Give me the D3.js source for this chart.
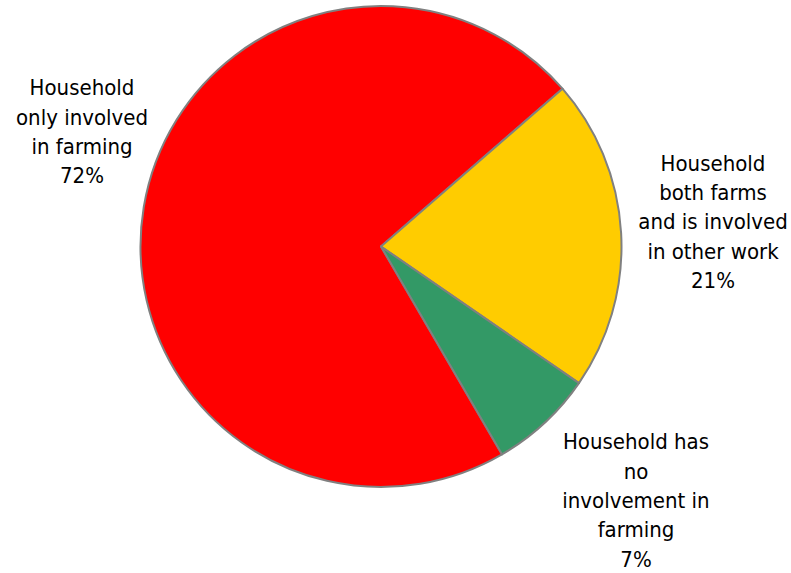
<!DOCTYPE html>
<html>
<head>
<meta charset="utf-8">
<script src="https://cdn.jsdelivr.net/npm/d3@7"></script>
<style>
  html, body { margin: 0; padding: 0; background: #fff; }
  svg { display: block; }
</style>
</head>
<body>
<svg id="chart" width="791" height="573"></svg>
<script>
// Household involvement in farming
const categories = [
  ["Household", "only involved", "in farming"],
  ["Household", "both farms", "and is involved", "in other work"],
  ["Household has", "no", "involvement in", "farming"]
];
const shares = [72, 21, 7];
const colors = ["#FF0000", "#FFCC00", "#339966"];

const width = 791, height = 573;
const cx = 381, cy = 246.5, radius = 240.5;

const svg = d3.select("#chart");
const g = svg.append("g").attr("transform", `translate(${cx},${cy})`);

// The first slice ends at about 49° past twelve o'clock
const endOfFirst = 49 * Math.PI / 180;
const total = d3.sum(shares);
const start = endOfFirst - (shares[0] / total) * 2 * Math.PI;

const pie = d3.pie().sort(null).value(d => d)
  .startAngle(start).endAngle(start + 2 * Math.PI);
const arcs = pie(shares);
const arc = d3.arc().innerRadius(0).outerRadius(radius);

g.selectAll("path.slice")
  .data(arcs)
  .join("path")
  .attr("class", "slice")
  .attr("d", arc)
  .attr("fill", (d, i) => colors[i])
  .attr("stroke", "#808080")
  .attr("stroke-width", 2)
  .attr("stroke-linejoin", "round");

// Label blocks placed outside each slice (centre of each block)
const labelAnchors = [
  { x: 82, y: 131.5 },
  { x: 713, y: 221.5 },
  { x: 636, y: 500 }
];
const lineH = 29.3;

arcs.forEach((a, i) => {
  const lines = categories[i].concat([shares[i] + "%"]);
  const n = lines.length;
  const t = svg.append("text")
    .attr("font-family", "'DejaVu Sans Condensed', 'DejaVu Sans', Verdana, sans-serif")
    .attr("font-stretch", "condensed")
    .attr("font-size", 22)
    .attr("fill", "#000")
    .attr("text-anchor", "middle");
  lines.forEach((s, k) => {
    t.append("tspan")
      .attr("x", labelAnchors[i].x)
      .attr("y", labelAnchors[i].y + (k - (n - 1) / 2) * lineH)
      .attr("dy", "0.36em")
      .text(s);
  });
});
</script>
</body>
</html>
